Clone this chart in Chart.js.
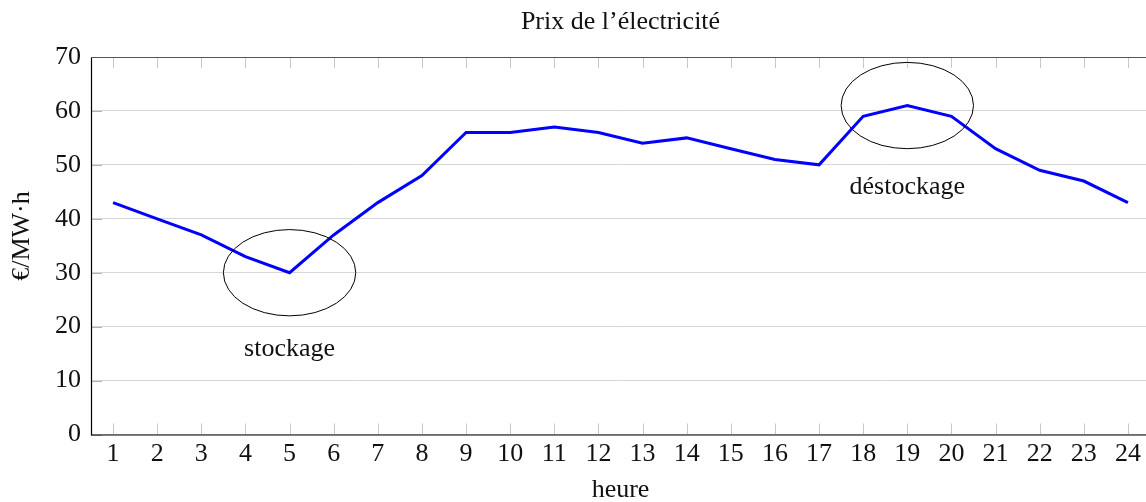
<!DOCTYPE html>
<html>
<head>
<meta charset="utf-8">
<script src="https://cdn.jsdelivr.net/npm/chart.js@4/dist/chart.umd.min.js"></script>
<style>
  html, body { margin: 0; padding: 0; background: #fff; overflow: hidden; }
  #wrap { position: relative; width: 1150px; height: 502px; }
</style>
</head>
<body>
<div id="wrap"><canvas id="c"></canvas></div>
<script>
// ---- data ----
const hours = ['1','2','3','4','5','6','7','8','9','10','11','12','13','14','15','16','17','18','19','20','21','22','23','24'];
const prices = [43, 40, 37, 33, 30, 37, 43, 48, 56, 56, 57, 56, 54, 55, 53, 51, 50, 59, 61, 59, 53, 49, 47, 43];
const yTicks = [0, 10, 20, 30, 40, 50, 60, 70];
const titleText = 'Prix de l’électricité';
const xTitle = 'heure';
const yTitle = '€/MW·h';
// annotations: ellipse center (hour, price), radii (hours, price), label and its anchor price
const noteNames = ['stockage', 'déstockage'];
const noteHours = [5, 19];
const notePrices = [30, 61];
const noteRadiusHours = [1.5, 1.5];
const noteRadiusPrices = [8, 8];
const noteLabelPrices = [14.5, 44.6];

const FONT = '"Liberation Serif", "Times New Roman", serif';
const FS = 26;

const decor = {
  id: 'decor',
  beforeDatasetsDraw(chart) {
    const {ctx, chartArea: a, scales: {x, y}} = chart;
    ctx.save();
    ctx.lineWidth = 1;
    // x ticks (inward, top and bottom)
    ctx.strokeStyle = '#c8c8c8';
    hours.forEach((h, i) => {
      const px = Math.round(x.getPixelForValue(i)) + 0.5;
      ctx.beginPath();
      ctx.moveTo(px, a.bottom); ctx.lineTo(px, a.bottom - 11);
      ctx.moveTo(px, a.top); ctx.lineTo(px, a.top + 11);
      ctx.stroke();
    });
    // y ticks (inward, left)
    ctx.strokeStyle = '#b4b4b4';
    yTicks.forEach(v => {
      const py = Math.round(y.getPixelForValue(v)) + 0.5;
      ctx.beginPath();
      ctx.moveTo(a.left, py); ctx.lineTo(a.left + 11, py);
      ctx.stroke();
    });
    ctx.restore();
  },
  afterDatasetsDraw(chart) {
    const {ctx, chartArea: a, scales: {x, y}} = chart;
    ctx.save();
    // ellipses + labels
    ctx.strokeStyle = '#000';
    ctx.lineWidth = 1;
    ctx.fillStyle = '#111';
    ctx.font = FS + 'px ' + FONT;
    ctx.textAlign = 'center';
    ctx.textBaseline = 'alphabetic';
    noteNames.forEach((n, i) => {
      const cx = x.getPixelForValue(noteHours[i] - 1);
      const cy = y.getPixelForValue(notePrices[i]);
      const rx = Math.abs(x.getPixelForValue(noteHours[i] - 1 + noteRadiusHours[i]) - cx);
      const ry = Math.abs(y.getPixelForValue(notePrices[i] + noteRadiusPrices[i]) - cy);
      ctx.beginPath();
      ctx.ellipse(cx, cy, rx, ry, 0, 0, Math.PI * 2);
      ctx.stroke();
      ctx.fillText(n, cx, y.getPixelForValue(noteLabelPrices[i]));
    });
    // axes frame
    ctx.lineWidth = 1.2;
    ctx.strokeStyle = '#000';
    ctx.beginPath();
    ctx.moveTo(a.left + 0.5, a.top);
    ctx.lineTo(a.left + 0.5, a.bottom + 0.5);
    ctx.lineTo(a.right + 2, a.bottom + 0.5);
    ctx.stroke();
    ctx.strokeStyle = '#555';
    ctx.beginPath();
    ctx.moveTo(a.left, a.top + 0.5);
    ctx.lineTo(a.right + 2, a.top + 0.5);
    ctx.stroke();
    // titles
    ctx.fillStyle = '#111';
    const midX = (a.left + a.right) / 2;
    ctx.fillText(titleText, midX, 29);
    ctx.fillText(xTitle, midX, 497);
    ctx.translate(29, 236);
    ctx.rotate(-Math.PI / 2);
    ctx.fillText(yTitle, 0, 0);
    ctx.restore();
  }
};

new Chart(document.getElementById('c'), {
  type: 'line',
  data: {
    labels: hours,
    datasets: [{
      data: prices,
      borderColor: '#0000ff',
      borderWidth: 3,
      pointRadius: 0,
      tension: 0,
      fill: false
    }]
  },
  options: {
    responsive: true,
    maintainAspectRatio: false,
    animation: false,
    devicePixelRatio: 1,
    layout: { padding: { top: 57, left: 0, right: 0, bottom: 0 } },
    plugins: { legend: { display: false }, title: { display: false }, tooltip: { enabled: false } },
    scales: {
      x: {
        type: 'category',
        offset: true,
        grid: { display: false, drawTicks: false },
        border: { display: false },
        ticks: { color: '#111', font: { family: FONT, size: FS }, padding: 4, maxRotation: 0, autoSkip: false },
        afterFit(s) { s.height = 67.5; }
      },
      y: {
        min: 0, max: 70,
        afterBuildTicks(s) { s.ticks = yTicks.map(v => ({ value: v })); },
        grid: { color: '#d6d6d6', lineWidth: 1, drawTicks: false },
        border: { display: false },
        ticks: { color: '#111', font: { family: FONT, size: FS }, padding: 10 },
        afterFit(s) { s.width = 91; }
      }
    }
  },
  plugins: [decor]
});
</script>
</body>
</html>
